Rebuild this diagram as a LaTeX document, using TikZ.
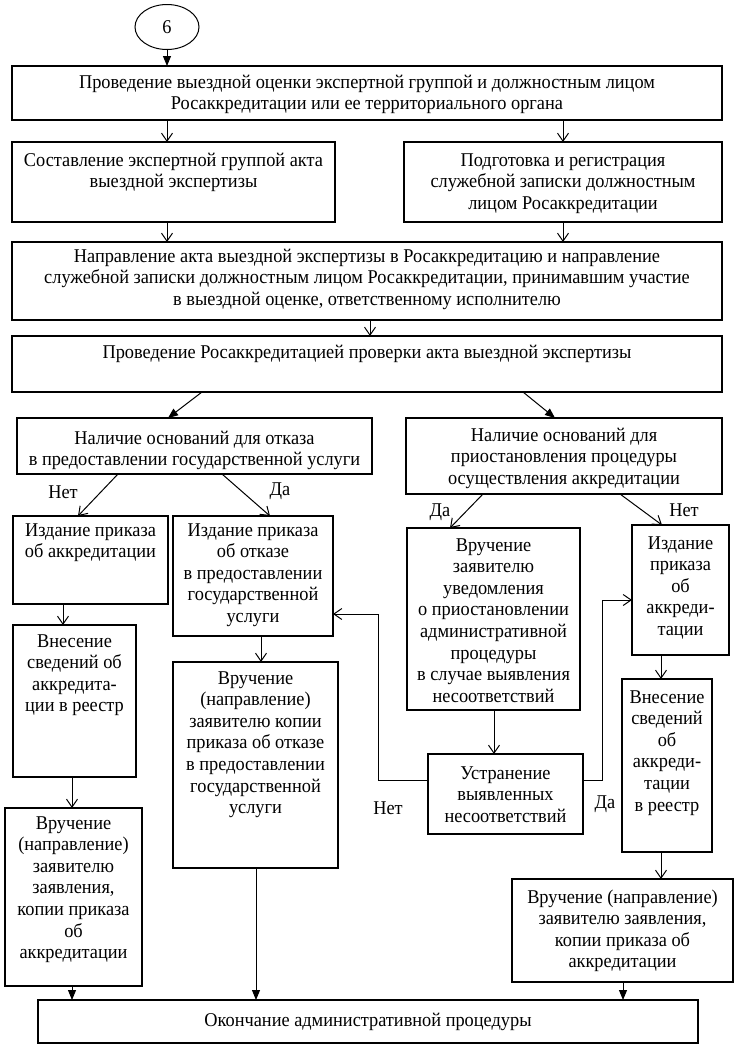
\documentclass[tikz,border=0pt]{standalone}
\usepackage{fontspec}
\setmainfont[FakeStretch=0.94]{Liberation Serif}
\usetikzlibrary{arrows.meta,shapes.geometric}
\tikzset{
  box/.style={draw, line width=1.1pt, rectangle, inner sep=0pt, outer sep=0pt},
  oarr/.style={line width=1pt, -{Straight Barb[length=8pt,width=11pt,line width=1pt]}},
  farr/.style={line width=1pt, -{Triangle[length=10pt,width=8pt]}},
  lbl/.style={inner sep=0pt},
}
\newcommand\bx[7]{%
  \node[box, minimum width={#4-#2}, minimum height={#5-#3}] (#1) at ({(#2+#4)/2},{(#3+#5)/2})
  {\vbox to \dimexpr#5pt-#3pt\relax{\hbox to \dimexpr#4pt-#2pt\relax{\hss\begin{tabular}[t]{@{}c@{}}\rule{0pt}{#6pt}#7\end{tabular}\hss}\vss}};}
\begin{document}
\begin{tikzpicture}[x=1pt,y=-1pt,font=\fontsize{19.5}{21.6}\selectfont]
\fill[white] (0,0) rectangle (741,1055);
\useasboundingbox (0,0) rectangle (741,1055);

\node[draw, ellipse, line width=1pt, minimum width=64, minimum height=45, inner sep=0pt] (c6) at (167,27) {6};

\bx{b1}{12}{66}{722}{120}{22}{Проведение выездной оценки экспертной группой и должностным лицом\\Росаккредитации или ее территориального органа}
\bx{b2}{12}{142}{335}{222}{24}{Составление экспертной группой акта\\выездной экспертизы}
\bx{b3}{404}{142}{722}{222}{24}{Подготовка и регистрация\\служебной записки должностным\\лицом Росаккредитации}
\bx{b4}{12}{242}{722}{320}{20}{Направление акта выездной экспертизы в Росаккредитацию и направление\\служебной записки должностным лицом Росаккредитации, принимавшим участие\\в выездной оценке, ответственному исполнителю}
\bx{b5}{12}{336}{722}{392}{22}{Проведение Росаккредитацией проверки акта выездной экспертизы}
\bx{b6}{17}{418}{372}{474}{26}{Наличие оснований для отказа\\в предоставлении государственной услуги}
\bx{b7}{406}{418}{722}{494}{23}{Наличие оснований для\\приостановления процедуры\\осуществления аккредитации}
\bx{b8}{13}{516}{168}{604}{20}{Издание приказа\\об аккредитации}
\bx{b9}{173}{516}{333}{636}{20}{Издание приказа\\об отказе\\в предоставлении\\государственной\\услуги}
\bx{b10}{407}{528}{580}{710}{23}{Вручение\\заявителю\\уведомления\\о приостановлении\\административной\\процедуры\\в случае выявления\\несоответствий}
\bx{b11}{632}{525}{729}{655}{24}{Издание\\приказа\\об\\аккреди-\\тации}
\bx{b12}{13}{625}{136}{777}{22}{Внесение\\сведений об\\аккредита-\\ции в реестр}
\bx{b13}{5}{808}{142}{986}{21}{Вручение\\(направление)\\заявителю\\заявления,\\копии приказа\\об\\аккредитации}
\bx{b14}{173}{662}{338}{868}{22}{Вручение\\(направление)\\заявителю копии\\приказа об отказе\\в предоставлении\\государственной\\услуги}
\bx{b15}{428}{754}{583}{834}{25}{Устранение\\выявленных\\несоответствий}
\bx{b16}{622}{679}{712}{852}{24}{Внесение\\сведений\\об\\аккреди-\\тации\\в реестр}
\bx{b17}{512}{879}{733}{982}{24}{Вручение (направление)\\заявителю заявления,\\копии приказа об\\аккредитации}
\bx{bend}{38}{1000}{698}{1043}{26}{Окончание административной процедуры}

\draw[farr] (c6.south) -- (c6.south |- b1.north);
\draw[oarr] (167,0 |- b1.south) -- (167,0 |- b2.north);
\draw[oarr] (563,0 |- b1.south) -- (563,0 |- b3.north);
\draw[oarr] (167,0 |- b2.south) -- (167,0 |- b4.north);
\draw[oarr] (563,0 |- b3.south) -- (563,0 |- b4.north);
\draw[oarr] (370,0 |- b4.south) -- (370,0 |- b5.north);
\draw[farr] (202,0 |- b5.south) -- (168,0 |- b6.north);
\draw[farr] (523,0 |- b5.south) -- (555,0 |- b7.north);
\draw[oarr] (118,0 |- b6.south) -- (78,0 |- b8.north);
\draw[oarr] (222,0 |- b6.south) -- (270,0 |- b9.north);
\draw[oarr] (483,0 |- b7.south) -- (450,0 |- b10.north);
\draw[oarr] (620,0 |- b7.south) -- (662,0 |- b11.north);
\draw[oarr] (63,0 |- b8.south) -- (63,0 |- b12.north);
\draw[oarr] (72,0 |- b12.south) -- (72,0 |- b13.north);
\draw[farr] (72,0 |- b13.south) -- (72,0 |- bend.north);
\draw[oarr] (261,0 |- b9.south) -- (261,0 |- b14.north);
\draw[farr] (256,0 |- b14.south) -- (256,0 |- bend.north);
\draw[oarr] (494,0 |- b10.south) -- (494,0 |- b15.north);
\draw[oarr] (b15.west |- 0,780) -| (378,614) -- (b9.east |- 0,614);
\draw[oarr] (b15.east |- 0,780) -| (602,600) -- (b11.west |- 0,600);
\draw[oarr] (661,0 |- b11.south) -- (661,0 |- b16.north);
\draw[oarr] (661,0 |- b16.south) -- (661,0 |- b17.north);
\draw[farr] (623,0 |- b17.south) -- (623,0 |- bend.north);

\node[lbl] (l1) at (63,492) {Нет};
\node[lbl] (l2) at (280,491) {Да};
\node[lbl] (l3) at (440,512) {Да};
\node[lbl] (l4) at (684,510) {Нет};
\node[lbl] (l5) at (388,808) {Нет};
\node[lbl] (l6) at (605,804) {Да};
\end{tikzpicture}
\end{document}
